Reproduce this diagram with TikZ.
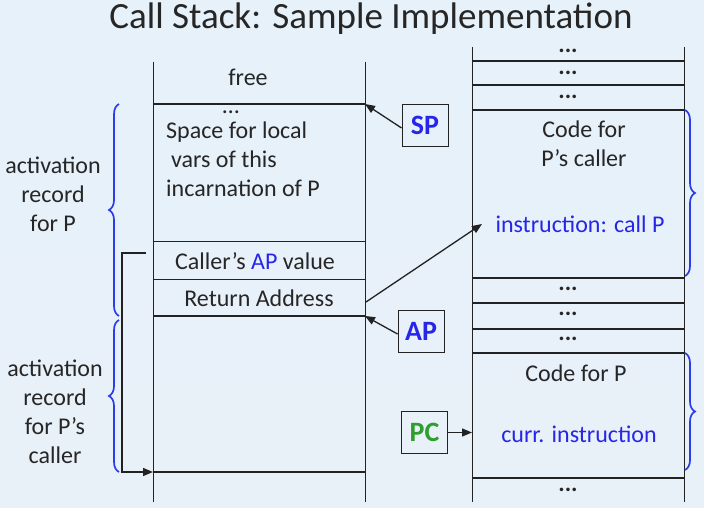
\documentclass[tikz,border=0pt]{standalone}
\usepackage{fontspec}
\setmainfont{Carlito}
\usetikzlibrary{arrows.meta,decorations.pathreplacing,calc}
\definecolor{txt}{HTML}{262626}
\definecolor{ln}{HTML}{222222}
\definecolor{bl}{HTML}{2626E8}
\definecolor{br}{HTML}{2A3EE8}
\definecolor{gr}{HTML}{2E9E2E}
\definecolor{bgtop}{HTML}{E6F1FA}
\definecolor{bgbot}{HTML}{E9F1F8}
\begin{document}
\begin{tikzpicture}[x=1pt,y=-1pt,
  lab/.style={font=\fontsize{24}{29}\selectfont, text=txt, inner sep=0pt, align=center},
  blab/.style={lab, text=bl},
  reg/.style={draw=ln, line width=0.9pt, minimum width=46pt, minimum height=42pt, inner sep=0pt, font=\fontsize{28}{30}\selectfont\bfseries},
  thin/.style={draw=ln, line width=0.9pt},
  thick/.style={draw=ln, line width=2.4pt},
  dots/.style={font=\fontsize{24}{24}\selectfont\bfseries, text=txt, inner sep=0pt},
  ptr/.style={draw=ln, line width=1.3pt, -{Triangle[length=10pt,width=8pt]}},
  brc/.style={draw=br, line width=1.7pt, decorate, decoration={brace, amplitude=10pt}}]
\useasboundingbox (0,0) rectangle (704,508);
\shade[top color=bgtop, bottom color=bgbot] (0,0) rectangle (704,508);

\node[font=\fontsize{37}{40}\selectfont, text=txt, inner sep=0pt] (title) at (371,19) {Call Stack: Sample Implementation};

% left stack
\coordinate (L1) at (153,62);  \coordinate (L2) at (153,502);
\coordinate (R1) at (365,62);  \coordinate (R2) at (365,502);
\draw[thin] (L1) -- (L2);
\draw[thin] (R1) -- (R2);
\coordinate (sp) at (365,104);
\coordinate (ap) at (365,316);
\draw[thick] (153,104) -- (sp);
\draw[thin] (153,241) -- (365,241);
\draw[thin] (153,279) -- (365,279);
\draw[thick] (153,316) -- (ap);
\coordinate (bot) at (153,472);
\draw[thick] (bot) -- (365,472);

\node[lab] (free) at (248,77) {free};
\node[lab] (ldots) at (231,112) {\dots};
\node[lab, align=left, anchor=west] (space) at (166,159) {Space for local\\\hspace*{5pt}vars of this\\incarnation of P};
\node[lab] (callap) at (255,261) {Caller’s \textcolor{bl}{AP} value};
\node[lab] (ret) at (259,298) {Return Address};
\coordinate (retout) at (366,302);

% right column
\coordinate (RL1) at (472,47); \coordinate (RL2) at (472,502);
\coordinate (RR1) at (684,47); \coordinate (RR2) at (684,502);
\draw[thin] (RL1) -- (RL2);
\draw[thin] (RR1) -- (RR2);
\foreach \y in {61,85,110,278,303,329,353,478}
  \draw[thick] (472,\y) -- (684,\y);
\foreach \y/\n in {51/a,73/b,97/c,289/d,314/e,339/f,490/g}
  \node[dots] (d\n) at (568,\y) {...};

\node[lab] (code1) at (584,144) {Code for\\P’s caller};
\node[blab] (callp) at (580,224) {instruction: call P};
\coordinate (callin) at (482,224);
\node[lab] (code2) at (576,373) {Code for P};
\node[blab] (curr) at (579,434) {curr. instruction};

% registers
\node[reg, text=bl] (SP) at (425,125) {SP};
\node[reg, text=bl] (AP) at (421,331) {AP};
\node[reg, text=gr] (PC) at (424.5,432.5) {PC};

\draw[ptr] (SP.west) ++(0,3) -- (sp);
\draw[ptr] (AP.west) ++(0,3) -- (ap);
\draw[ptr] (PC.east) -- (PC.east -| RL1);
\draw[ptr] (retout) -- (callin);

% caller AP link
\coordinate (c1) at (146,253);
\coordinate (c2) at (122,253);
\draw[thin, line width=1.3pt, -{Triangle[length=10pt,width=8pt]}] (c1) -- (c2) |- (bot);

% braces
\draw[brc] (119,316) -- (119,104);
\draw[brc] (119,472) -- (119,320);
\draw[brc] (685,110) -- (685,276);
\draw[brc] (685,353) -- (685,470);

\node[lab] (arP) at (53,194) {activation\\record\\for P};
\node[lab] (arC) at (55,412) {activation\\record\\for P’s\\caller};
\end{tikzpicture}
\end{document}
